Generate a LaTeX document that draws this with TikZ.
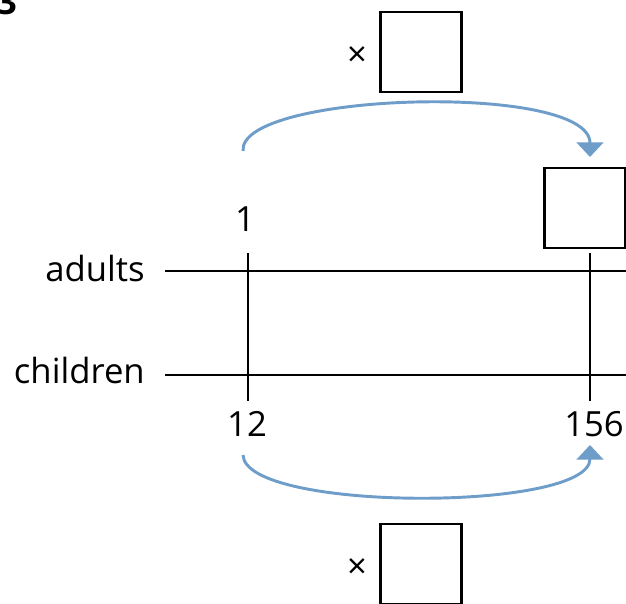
\documentclass[tikz,border=0pt]{standalone}
\usepackage{fontspec}
\setmainfont{Open Sans}
\usetikzlibrary{arrows.meta}
\definecolor{arrowblue}{RGB}{110,157,202}
\tikzset{
  ansbox/.style={draw=black, line width=2pt, minimum width=61pt, minimum height=60pt, inner sep=0pt},
  lbl/.style={font=\fontsize{26}{30}\selectfont, inner sep=0pt},
  timeslbl/.style={font=\fontsize{26}{30}\selectfont, inner sep=0pt},
  axis/.style={line width=1.9pt, black},
  blueArrow/.style={draw=arrowblue, line width=2.2pt, -{Triangle[length=11pt, width=20pt]}},
}
\begin{document}
\begin{tikzpicture}[x=0.75pt, y=-0.75pt]
\useasboundingbox (0,0) rectangle (626,604);
% question number (cut off)
\node[font=\bfseries\fontsize{26}{30}\selectfont, inner sep=0pt] (qn) at (7,2) {3};
% boxes
\node[ansbox] (topbox) at (421,52) {};
\node[ansbox] (rightbox) at (585,208) {};
\node[ansbox] (botbox) at (421,564) {};
\node[timeslbl] (timestop) at (357,57) {×};
\node[timeslbl] (timesbot) at (357,569) {×};
% labels
\node[lbl, anchor=east] (adults) at (145,268) {adults};
\node[lbl, anchor=east] (children) at (145,370) {children};
\node[lbl] (one) at (245,219) {1};
\node[lbl] (twelve) at (247,424) {12};
\node[lbl] (onefivesix) at (594,424) {156};
% lines
\coordinate (aL) at (165,271);
\coordinate (aR) at (626,271);
\coordinate (cL) at (165,375);
\coordinate (cR) at (626,375);
\coordinate (v1t) at (248,253);
\coordinate (v1b) at (248,401);
\coordinate (v2t) at (590,253);
\coordinate (v2b) at (590,401);
\draw[axis] (aL) -- (aR);
\draw[axis] (cL) -- (cR);
\draw[axis] (v1t) -- (v1b);
\draw[axis] (v2t) -- (v2b);
% arrows
\coordinate (ts) at (243,151);
\coordinate (te) at (590,157);
\coordinate (bs) at (243,455);
\coordinate (be) at (590,445);
\draw[blueArrow] (ts) .. controls (238,92) and (590,82) .. (te);
\draw[blueArrow] (bs) .. controls (245,512) and (590,512) .. (be);
\end{tikzpicture}
\end{document}
